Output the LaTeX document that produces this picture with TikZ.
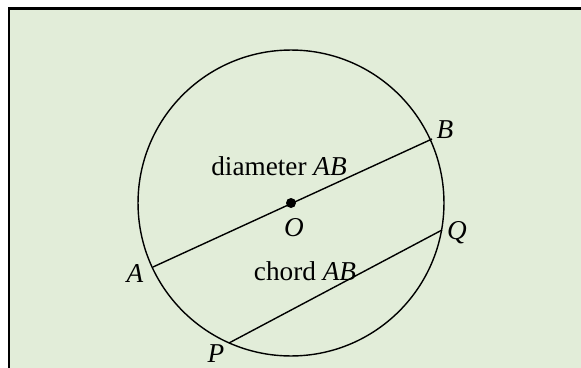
\documentclass[tikz,border=0pt]{standalone}
\usepackage{fontspec}
\setmainfont{Liberation Serif}
\usetikzlibrary{calc}
\definecolor{paper}{HTML}{E2EDD9}

\begin{document}
\begin{tikzpicture}[
  x=0.02cm,y=-0.02cm,
  font=\fontsize{15.5}{18}\selectfont,
  geo/.style={draw=black,line width=0.8pt},
  lbl/.style={inner sep=0pt}
]
\useasboundingbox (0,0) rectangle (581,368);
\clip (0,0) rectangle (581,368);
% panel
\fill[paper] (9,8.5) rectangle (600,390);
\draw[line width=1.7pt] (600,8.5) -- (9,8.5) -- (9,390);

% points on the circle
\coordinate (O) at (291,203);
\coordinate (A) at (153,267);
\coordinate (B) at (432,139);
\coordinate (P) at (229,343);
\coordinate (Q) at (442,230);

\draw[geo] (O) circle[radius=3.06cm];
\draw[geo] (A) -- (B);
\draw[geo] (P) -- (Q);
\fill (O) circle[radius=0.1cm];

\node[lbl] (lA) at (135,274) {\textit{A}};
\node[lbl] (lB) at (445,130) {\textit{B}};
\node[lbl] (lO) at (294,228) {\textit{O}};
\node[lbl] (lP) at (216,354) {\textit{P}};
\node[lbl] (lQ) at (457,233) {\textit{Q}};
\node[lbl] (dia) at (279,166) {diameter \textit{AB}};
\node[lbl] (chd) at (305,271) {chord \textit{AB}};
\end{tikzpicture}
\end{document}
